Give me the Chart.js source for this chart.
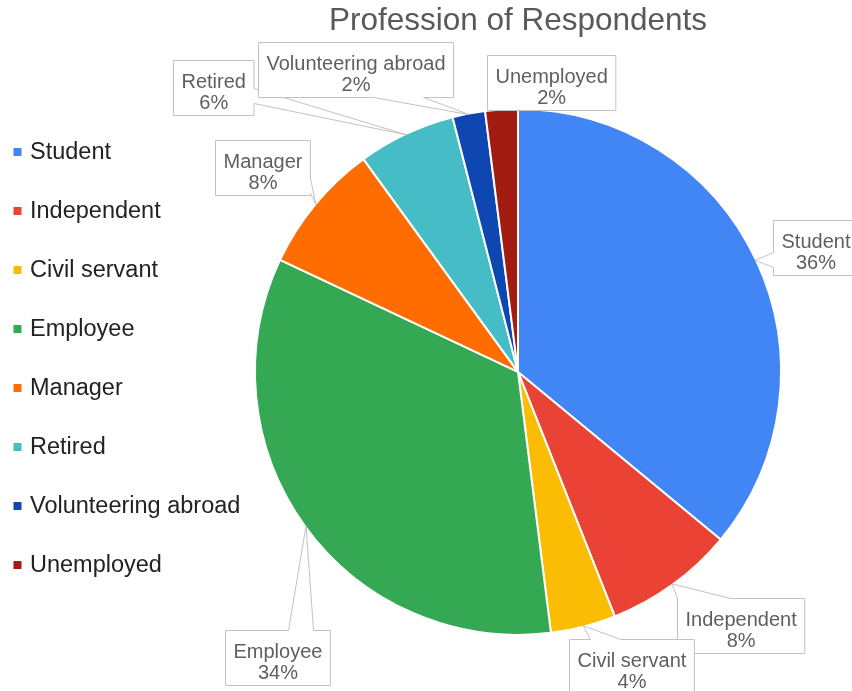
<!DOCTYPE html>
<html>
<head>
<meta charset="utf-8">
<title>Profession of Respondents</title>
<script src="https://cdn.jsdelivr.net/npm/chart.js@4/dist/chart.umd.min.js"></script>
<style>
    html, body { margin: 0; padding: 0; background: #ffffff; }
    #wrap { width: 852px; height: 691px; }
</style>
</head>
<body>
<div id="wrap"><canvas id="professionChart" width="852" height="691"></canvas></div>
<script>
// 응답자 직업 데이터
const professions = ['Student', 'Independent', 'Civil servant', 'Employee', 'Manager', 'Retired', 'Volunteering abroad', 'Unemployed'];
const shares = [36, 8, 4, 34, 8, 6, 2, 2];
const sliceColors = ['#4285f4', '#ea4335', '#fbbc04', '#34a853', '#ff6d01', '#46bdc6', '#0e47b1', '#a21c11'];

const FONT = "'Liberation Sans', Arial, sans-serif";

// 말풍선 라벨 배치 (조각 바깥 끝점 기준 상자 위치, 꼬리 위치)
const calloutLayout = [
    { dx: 18,   dy: -40, side: 'left',   a: 32,  b: 47 },
    { dx: 5,    dy: 14,  side: 'top',    a: 0,   b: 53 },
    { dx: -14,  dy: 13,  side: 'top',    a: 21,  b: 51 },
    { dx: -81,  dy: 104, side: 'top',    a: 63,  b: 88 },
    { dx: -101, dy: -65, side: 'right',  a: 38,  b: 53 },
    { dx: -233, dy: -75, side: 'right',  a: 28,  b: 43 },
    { dx: -211, dy: -73, side: 'bottom', a: 115, b: 165 },
    { dx: -15,  dy: -55, side: 'bottom', a: 1,   b: 23 }
];

// 왼쪽 범례 (사각형 + 이름)
const sideLegend = {
    id: 'sideLegend',
    afterDraw(chart) {
        const ctx = chart.ctx;
        const colors = chart.data.datasets[0].backgroundColor;
        ctx.save();
        ctx.font = '23.5px ' + FONT;
        ctx.textBaseline = 'middle';
        ctx.textAlign = 'left';
        chart.data.labels.forEach((label, i) => {
            const y = 152 + i * 59;
            ctx.fillStyle = colors[i];
            ctx.fillRect(13.5, y - 4, 8, 8);
            ctx.fillStyle = '#222222';
            ctx.fillText(label, 30, y + 1);
        });
        ctx.restore();
    }
};

// 말풍선 모양 라벨
const calloutLabels = {
    id: 'calloutLabels',
    afterDatasetsDraw(chart) {
        const ctx = chart.ctx;
        const meta = chart.getDatasetMeta(0);
        const values = chart.data.datasets[0].data;
        const total = values.reduce((s, v) => s + v, 0);
        ctx.save();
        ctx.font = '20px ' + FONT;
        meta.data.forEach((arc, i) => {
            const p = arc.getProps(['x', 'y', 'startAngle', 'endAngle', 'outerRadius'], true);
            const mid = (p.startAngle + p.endAngle) / 2;
            const r = p.outerRadius - 1;
            const tx = p.x + Math.cos(mid) * r;
            const ty = p.y + Math.sin(mid) * r;
            const lay = calloutLayout[i];
            const lines = [chart.data.labels[i], Math.round(values[i] / total * 100) + '%'];
            const w = Math.max(...lines.map(t => ctx.measureText(t).width)) + 16;
            const h = 55;
            const x = Math.round(tx + lay.dx) + 0.5;
            const y = Math.round(ty + lay.dy) + 0.5;

            const pts = [[x, y]];
            if (lay.side === 'top') pts.push([x + lay.a, y], [tx, ty], [x + lay.b, y]);
            pts.push([x + w, y]);
            if (lay.side === 'right') pts.push([x + w, y + lay.a], [tx, ty], [x + w, y + lay.b]);
            pts.push([x + w, y + h]);
            if (lay.side === 'bottom') pts.push([x + lay.b, y + h], [tx, ty], [x + lay.a, y + h]);
            pts.push([x, y + h]);
            if (lay.side === 'left') pts.push([x, y + lay.b], [tx, ty], [x, y + lay.a]);

            ctx.beginPath();
            pts.forEach((pt, k) => k ? ctx.lineTo(pt[0], pt[1]) : ctx.moveTo(pt[0], pt[1]));
            ctx.closePath();
            ctx.fillStyle = '#ffffff';
            ctx.fill();
            ctx.lineWidth = 1;
            ctx.strokeStyle = '#c2c2c2';
            ctx.stroke();

            ctx.fillStyle = '#5f5f5f';
            ctx.textAlign = 'center';
            ctx.textBaseline = 'middle';
            ctx.fillText(lines[0], x + w / 2, y + 22);
            ctx.fillText(lines[1], x + w / 2, y + 43);
        });
        ctx.restore();
    }
};

new Chart(document.getElementById('professionChart'), {
    type: 'pie',
    data: {
        labels: professions,
        datasets: [{
            data: shares,
            backgroundColor: sliceColors,
            borderColor: '#ffffff',
            borderWidth: 2
        }]
    },
    options: {
        responsive: false,
        animation: false,
        events: [],
        layout: {
            padding: { left: 254, right: 70, top: 0, bottom: 55 }
        },
        plugins: {
            legend: { display: false },
            tooltip: { enabled: false },
            title: {
                display: true,
                text: 'Profession of Respondents',
                color: '#595959',
                font: { family: FONT, size: 31.5, weight: 'normal', lineHeight: 1.2 },
                padding: { top: 2, bottom: 68 }
            }
        }
    },
    plugins: [sideLegend, calloutLabels]
});
</script>
</body>
</html>
